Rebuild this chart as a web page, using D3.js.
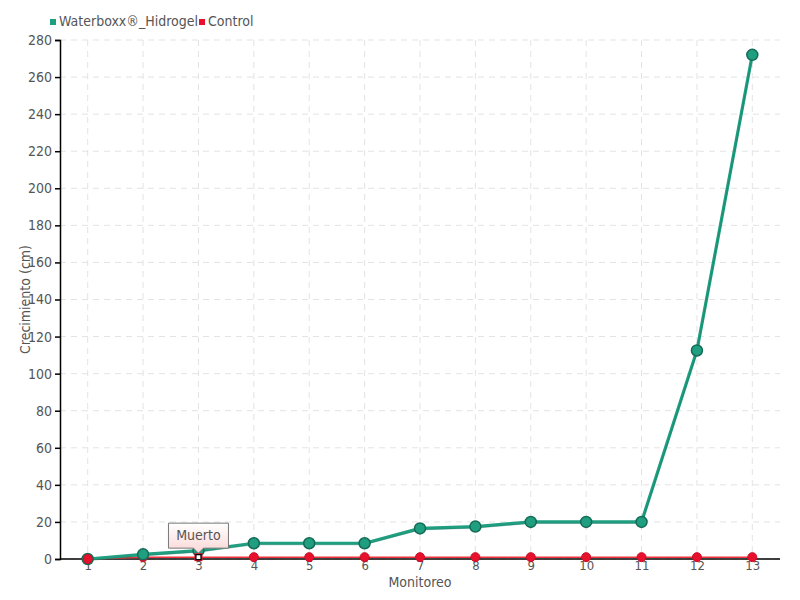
<!DOCTYPE html>
<html><head><meta charset="utf-8">
<script src="https://cdn.jsdelivr.net/npm/d3@7"></script>
<style>
body{margin:0;background:#fff;}
text{font-family:"DejaVu Sans Condensed","Liberation Sans Narrow",sans-serif;}
</style></head>
<body><svg id="c" width="800" height="600"></svg>
<script>
const categories = ["1","2","3","4","5","6","7","8","9","10","11","12","13"];
const waterboxx = [0,2.5,4.5,8.5,8.5,8.5,16.5,17.5,20,20,20,112.5,272];
const control = [0,1,1,1,1,1,1,1,1,1,1,1,1];
const yTicks = d3.range(0,281,20);
const seriesNames = ["Waterboxx®_Hidrogel","Control"];
const annotation = {index:2, text:"Muerto"};

const svg = d3.select("#c");
const m = {l:60, r:780, t:40, b:559};
const x = d3.scalePoint().domain(categories).range([m.l, m.r]).padding(0.5);
const y = d3.scaleLinear().domain([0,280]).range([m.b, m.t]);

const defs = svg.append("defs");
const g1 = defs.append("linearGradient").attr("id","ann").attr("x1",0).attr("y1",0).attr("x2",0).attr("y2",1);
g1.append("stop").attr("offset","0%").attr("stop-color","#ffffff");
g1.append("stop").attr("offset","100%").attr("stop-color","#fbd6d6");

// grid
svg.append("g").selectAll("line").data(yTicks).join("line")
  .attr("x1",m.l).attr("x2",m.r).attr("y1",d=>y(d)).attr("y2",d=>y(d))
  .attr("stroke","#e3e3e3").attr("stroke-dasharray","6,5");
svg.append("g").selectAll("line").data(categories).join("line")
  .attr("x1",d=>x(d)).attr("x2",d=>x(d)).attr("y1",m.t).attr("y2",m.b)
  .attr("stroke","#e3e3e3").attr("stroke-dasharray","6,5");

// axes
const yAxis = svg.append("g").attr("transform",`translate(${m.l},0)`)
  .call(d3.axisLeft(y).tickValues(yTicks).tickSize(5).tickPadding(3));
yAxis.select(".domain").attr("stroke","#000").attr("stroke-width",1.5);
yAxis.selectAll(".tick line").attr("stroke","#000").attr("stroke-width",1.5);
yAxis.selectAll("text").attr("fill","#555").attr("font-size",14);

const xAxis = svg.append("g").attr("transform",`translate(0,${m.b})`)
  .call(d3.axisBottom(x).tickSize(0).tickPadding(2).tickSizeOuter(0));
xAxis.select(".domain").attr("stroke","#000").attr("stroke-width",1.5).attr("d",`M${m.l},0H${m.r}`);
xAxis.selectAll("text").attr("fill","#555").attr("font-size",13);

// axis titles
svg.append("text").attr("x",(m.l+m.r)/2).attr("y",587).attr("text-anchor","middle")
  .attr("fill","#555").attr("font-size",14).text("Monitoreo");
svg.append("text").attr("transform",`translate(30,${(m.t+m.b)/2}) rotate(-90)`).attr("text-anchor","middle")
  .attr("fill","#555").attr("font-size",14).text("Crecimiento (cm)");

// control series
const line = d3.line().x((d,i)=>x(categories[i])).y(d=>y(d));
svg.append("path").datum(control).attr("d",line).attr("fill","none").attr("stroke","#f0323f").attr("stroke-width",1.5);
svg.append("g").selectAll("circle").data(control).join("circle")
  .attr("cx",(d,i)=>x(categories[i])).attr("cy",d=>y(d)).attr("r",4.5)
  .attr("fill","#e8112d").attr("stroke","#c80e25").attr("stroke-width",1)
  .attr("display",(d,i)=>i===annotation.index?"none":null);

// waterboxx
svg.append("path").datum(waterboxx).attr("d",line).attr("fill","none").attr("stroke","#1f9e80").attr("stroke-width",3.2).attr("stroke-linejoin","round");
svg.append("path").datum(waterboxx).attr("d",line).attr("fill","none").attr("stroke","#14735e").attr("stroke-width",1).attr("opacity",0.4).attr("transform","translate(0,1.5)");
svg.append("g").selectAll("circle").data(waterboxx).join("circle")
  .attr("cx",(d,i)=>x(categories[i])).attr("cy",d=>y(d)).attr("r",5.5)
  .attr("fill","#1f9e80").attr("stroke","#156b56").attr("stroke-width",1.5);

// control first point drawn over
svg.append("circle").attr("cx",x(categories[0])).attr("cy",y(control[0])).attr("r",4.5)
  .attr("fill","#e8112d").attr("stroke","#c80e25");

// annotation marker
const ax = x(categories[annotation.index]), ay = y(control[annotation.index]);
svg.append("rect").attr("x",ax-4).attr("y",ay-4).attr("width",8).attr("height",8)
  .attr("fill","#e8112d");
svg.append("rect").attr("x",ax-2.5).attr("y",ay-2.5).attr("width",5).attr("height",5)
  .attr("fill","#fff").attr("stroke","#000").attr("stroke-width",1.2);
const bw=60, bh=25, by=ay-34;
svg.append("path")
  .attr("d",`M${ax-bw/2},${by}H${ax+bw/2}V${by+bh}H${ax+5}L${ax},${by+bh+5}L${ax-5},${by+bh}H${ax-bw/2}Z`)
  .attr("fill","url(#ann)").attr("stroke","#777").attr("stroke-width",1);
svg.append("text").attr("x",ax).attr("y",by+17).attr("text-anchor","middle")
  .attr("fill","#555").attr("font-size",14).text(annotation.text);

// legend
const colors = ["#1f9e80","#e8112d"];
const lx = [50, 199];
seriesNames.forEach((n,i)=>{
  svg.append("rect").attr("x",lx[i]).attr("y",19).attr("width",6).attr("height",6).attr("fill",colors[i]);
  svg.append("text").attr("x",lx[i]+9).attr("y",26).attr("fill","#555").attr("font-size",14).text(n);
});
</script></body></html>
